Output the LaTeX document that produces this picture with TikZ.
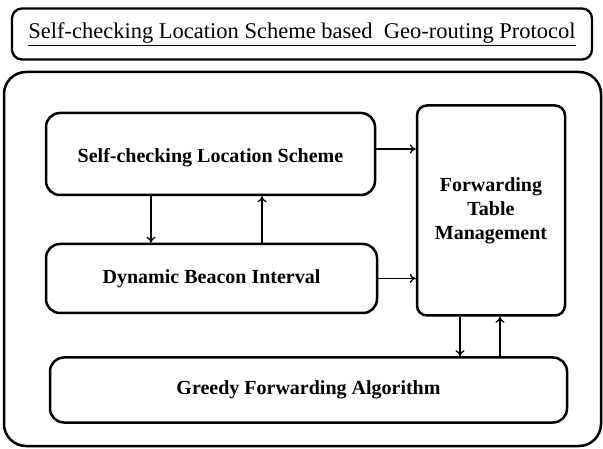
\documentclass[tikz,border=0pt]{standalone}
\usepackage{fontspec}
\setmainfont{Liberation Serif}
\usetikzlibrary{arrows.meta}
\tikzset{
  box/.style={draw, line width=2.5pt, rounded corners=#1, inner sep=0pt, align=center,
    font=\fontsize{20}{24}\selectfont\bfseries},
  box/.default=14pt,
  arr/.style={line width=1.7pt, -{To[length=6pt,width=9pt,line width=1.3pt]}}
}
\begin{document}
\begin{tikzpicture}[x=1pt,y=-1pt]
  \useasboundingbox (0,0) rectangle (603,449);
  % title frame
  \node[draw, line width=2.3pt, rounded corners=10pt, minimum width=580pt, minimum height=51pt,
        font=\fontsize{22.5}{24}\selectfont] (title) at (302,34)
        {\underline{Self-checking Location Scheme based\ \ Geo-routing Protocol}};
  % outer frame
  \node[draw, line width=2.5pt, rounded corners=22pt, minimum width=597pt, minimum height=374pt]
        (frame) at (302.5,259) {};
  % inner blocks
  \node[box, minimum width=329pt, minimum height=82pt] (sc) at (210.5,154)
       {\raisebox{-4pt}[\height][\depth]{Self-checking Location Scheme}};
  \node[box, minimum width=331pt, minimum height=69pt] (db) at (211.5,278.5) {Dynamic Beacon Interval};
  \node[box=10pt, minimum width=148pt, minimum height=210pt] (ft) at (491,210.5) {Forwarding\\Table\\Management};
  \node[box, minimum width=517pt, minimum height=65pt] (gr) at (308.5,390) {Greedy Forwarding Algorithm};
  % connectors
  \draw[arr] ([yshift=5pt]sc.east) -- ([yshift=5pt]sc.east -| ft.west);
  \draw[arr] (db.east) -- (db.east -| ft.west);
  \draw[arr] ([xshift=-59.5pt]sc.south) -- ([xshift=-59.5pt]sc.south |- db.north);
  \draw[arr] ([xshift=51.5pt]sc.south |- db.north) -- ([xshift=51.5pt]sc.south);
  \draw[arr] ([xshift=-31pt]ft.south) -- ([xshift=-31pt]ft.south |- gr.north);
  \draw[arr] ([xshift=9pt]ft.south |- gr.north) -- ([xshift=9pt]ft.south);
\end{tikzpicture}
\end{document}
